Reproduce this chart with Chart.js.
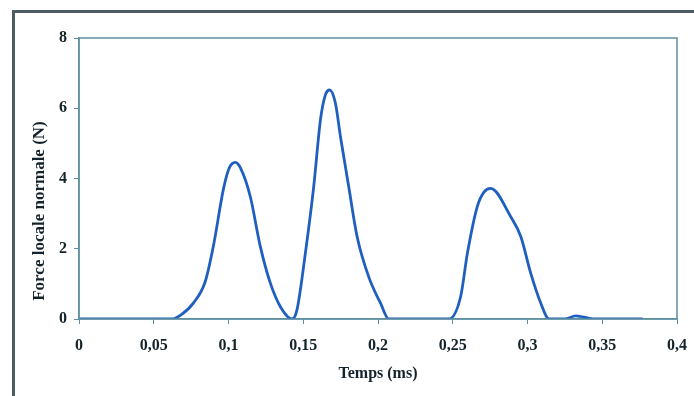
<!DOCTYPE html>
<html>
<head>
<meta charset="utf-8">
<script src="https://cdn.jsdelivr.net/npm/chart.js@4"></script>
<style>
	html, body { margin: 0; padding: 0; background: #fff; }
	#wrap { position: relative; width: 694px; height: 396px; overflow: hidden; }
	#frame {
		position: absolute; left: 12px; top: 10px; width: 720px; height: 420px;
		border-left: 3px solid #4d5c62; border-top: 3px solid #4d5c62;
	}
	canvas { position: absolute; left: 0; top: 0; }
</style>
</head>
<body>
<div id="wrap">
	<div id="frame"></div>
	<canvas id="chart" width="694" height="396"></canvas>
</div>
<script>
const TIMES = [
	0, 0.062, 0.068, 0.0766, 0.0844, 0.09, 0.0967, 0.1005, 0.1045, 0.108, 0.1146, 0.1213,
	0.128, 0.1347, 0.1425, 0.1458, 0.1514, 0.157, 0.1615, 0.1648, 0.1677, 0.1715, 0.1749,
	0.1804, 0.186, 0.1938, 0.2017, 0.2073, 0.2475, 0.2553, 0.2598, 0.2664, 0.271, 0.2754,
	0.2888, 0.2955, 0.3022, 0.3089, 0.3145, 0.325, 0.3323, 0.345, 0.377,
];
const FORCES = [
	0, 0, 0.11, 0.46, 1.06, 2.1, 3.72, 4.3, 4.46, 4.3, 3.48, 2.06,
	1.02, 0.35, 0, 0.26, 1.87, 3.77, 5.67, 6.38, 6.52, 6.15, 5.19,
	3.77, 2.35, 1.2, 0.45, 0, 0, 0.64, 1.87, 3.2, 3.62, 3.72,
	2.91, 2.35, 1.3, 0.45, 0, 0, 0.09, 0, 0,
];
const X_TICKS = [0, 0.05, 0.1, 0.15, 0.2, 0.25, 0.3, 0.35, 0.4];
const Y_TICKS = [0, 2, 4, 6, 8];
const X_TITLE = "Temps (ms)";
const Y_TITLE = "Force locale normale (N)";

const LINE_COLOR = "#1f5fbf";
const AXIS_COLOR = "#5f8fa0";
const TEXT_COLOR = "#14232a";
const FONT = "'Liberation Serif', 'Times New Roman', serif";

// plot box + y title (Excel puts it a bit below the middle)
const frameBox = {
	id: "frameBox",
	afterDraw: (chart) => {
		var a = chart.chartArea;
		var ctx = chart.ctx;
		ctx.save();
		ctx.strokeStyle = AXIS_COLOR;
		ctx.lineWidth = 1.5;
		ctx.strokeRect(a.left, a.top, a.right - a.left, a.bottom - a.top);
		ctx.translate(40, 211);
		ctx.rotate(-Math.PI / 2);
		ctx.fillStyle = TEXT_COLOR;
		ctx.font = "bold 17px " + FONT;
		ctx.textAlign = "center";
		ctx.textBaseline = "middle";
		ctx.fillText(Y_TITLE, 0, 0);
		ctx.restore();
	},
};

const points = TIMES.map((t, i) => ({ x: t, y: FORCES[i] }));

new Chart(document.getElementById("chart"), {
	type: "line",
	data: {
		datasets: [
			{
				data: points,
				borderColor: LINE_COLOR,
				borderWidth: 2.8,
				pointRadius: 0,
				cubicInterpolationMode: "monotone",
				fill: false,
			},
		],
	},
	plugins: [frameBox],
	options: {
		responsive: false,
		animation: false,
		layout: { padding: { left: 0, right: 17, top: 38, bottom: 0 } },
		plugins: { legend: { display: false }, tooltip: { enabled: false } },
		scales: {
			x: {
				type: "linear",
				min: 0,
				max: 0.4,
				afterFit: (scale) => {
					scale.height = 77;
					scale.paddingLeft = 0;
					scale.paddingRight = 0;
				},
				afterBuildTicks: (scale) => { scale.ticks = X_TICKS.map((v) => ({ value: v })); },
				grid: { drawOnChartArea: false, tickLength: 5, color: AXIS_COLOR, lineWidth: 1 },
				border: { color: AXIS_COLOR, width: 1.5 },
				ticks: {
					color: TEXT_COLOR,
					padding: 12,
					maxRotation: 0,
					font: { family: FONT, size: 16, weight: "bold" },
					callback: (v) => String(v).replace(".", ","),
				},
				title: {
					display: true,
					text: X_TITLE,
					color: TEXT_COLOR,
					font: { family: FONT, size: 16, weight: "bold" },
					padding: { top: 0, bottom: 13 },
				},
			},
			y: {
				min: 0,
				max: 8,
				afterFit: (scale) => {
					scale.width = 79;
					scale.paddingTop = 0;
					scale.paddingBottom = 0;
				},
				afterBuildTicks: (scale) => { scale.ticks = Y_TICKS.map((v) => ({ value: v })); },
				grid: { drawOnChartArea: false, tickLength: 5, color: AXIS_COLOR, lineWidth: 1 },
				border: { color: AXIS_COLOR, width: 1.5 },
				ticks: {
					color: TEXT_COLOR,
					padding: 7,
					font: { family: FONT, size: 16, weight: "bold" },
				},
			},
		},
	},
});
</script>
</body>
</html>
